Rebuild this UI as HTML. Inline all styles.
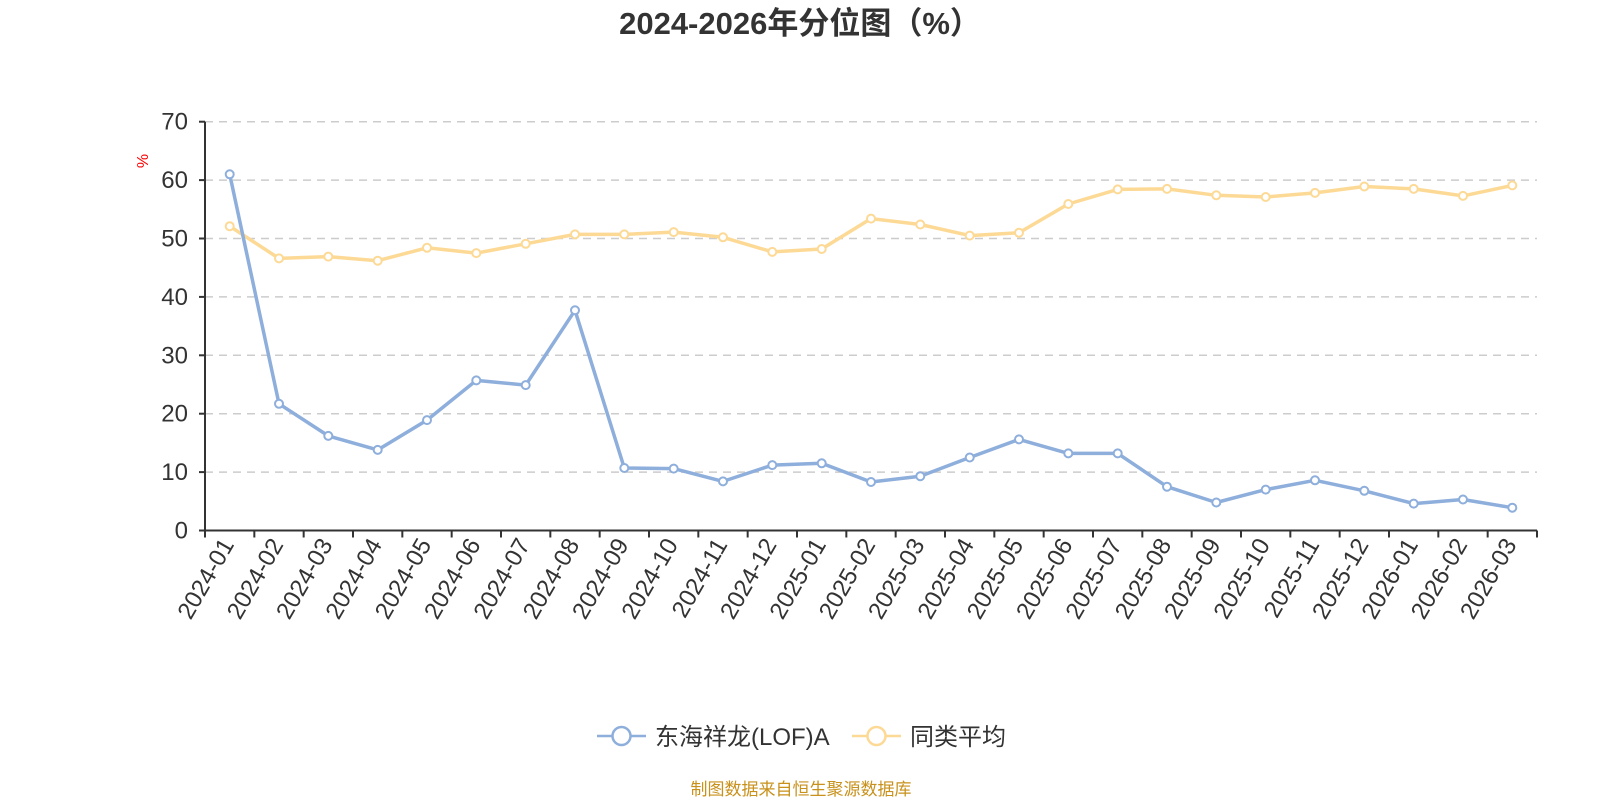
<!DOCTYPE html>
<html><head><meta charset="utf-8"><style>
body{margin:0;background:#fff;}
svg{display:block;font-family:"Liberation Sans","Noto Sans CJK SC",sans-serif;}
</style></head><body>
<svg id="s" width="1600" height="800" xmlns="http://www.w3.org/2000/svg">
<text x="800" y="34" text-anchor="middle" font-size="31" font-weight="bold" fill="#333">2024-2026年分位图（%）</text>
<text transform="translate(148,161) rotate(-90)" text-anchor="middle" font-size="16" fill="#f00">%</text>
<g id="g"></g>
<g>
<line x1="597" y1="736" x2="646" y2="736" stroke="#8eaedc" stroke-width="2.5"/>
<circle cx="621.5" cy="736" r="9" fill="#fff" stroke="#8eaedc" stroke-width="2.5"/>
<text x="655" y="745" font-size="24" fill="#333">东海祥龙(LOF)A</text>
<line x1="852" y1="736" x2="901" y2="736" stroke="#fdd996" stroke-width="2.5"/>
<circle cx="876.5" cy="736" r="9" fill="#fff" stroke="#fdd996" stroke-width="2.5"/>
<text x="910" y="745" font-size="24" fill="#333">同类平均</text>
</g>
<text x="801" y="795" text-anchor="middle" font-size="17" fill="#c8911b">制图数据来自恒生聚源数据库</text>
</svg>
<script>
var g=document.getElementById('g'),h='';
var L=205,R=1537,Y0=530.5,P=58.4,n=27,bw=(R-L)/n;
function y(v){return Y0-v*P/10;}
for(var v=10;v<=70;v+=10)h+='<line x1="'+L+'" x2="'+R+'" y1="'+y(v)+'" y2="'+y(v)+'" stroke="#ccc" stroke-width="1.5" stroke-dasharray="8,6"/>';
for(var v=0;v<=70;v+=10){h+='<line x1="'+(L-6)+'" x2="'+L+'" y1="'+y(v)+'" y2="'+y(v)+'" stroke="#333" stroke-width="2"/>';h+='<text x="188" y="'+(y(v)+8)+'" text-anchor="end" font-size="24" fill="#333">'+v+'</text>';}
h+='<line x1="'+L+'" x2="'+L+'" y1="'+y(70)+'" y2="'+Y0+'" stroke="#333" stroke-width="2"/>';
h+='<line x1="'+L+'" x2="'+R+'" y1="'+Y0+'" y2="'+Y0+'" stroke="#333" stroke-width="2"/>';
var labs=[];for(var i=0;i<n;i++){var yr=2024+Math.floor(i/12),m=i%12+1;labs.push(yr+'-'+(m<10?'0':'')+m);}
for(var i=0;i<=n;i++){var x=L+i*bw;h+='<line x1="'+x+'" x2="'+x+'" y1="'+Y0+'" y2="'+(Y0+7)+'" stroke="#333" stroke-width="2"/>';}
for(var i=0;i<n;i++){var x=L+(i+0.5)*bw;h+='<text transform="translate('+(x+5)+','+(Y0+14)+') rotate(-60)" text-anchor="end" font-size="24" fill="#333">'+labs[i]+'</text>';}
var a=[61,21.7,16.2,13.8,18.9,25.7,24.9,37.7,10.7,10.6,8.4,11.2,11.5,8.3,9.3,12.5,15.6,13.2,13.2,7.5,4.8,7.0,8.6,6.8,4.6,5.3,3.9];
var b=[52.1,46.6,46.9,46.2,48.4,47.5,49.1,50.7,50.7,51.1,50.2,47.7,48.2,53.4,52.4,50.5,51.0,55.9,58.4,58.5,57.4,57.1,57.8,58.9,58.5,57.3,59.1];
function ser(d,c){var p=d.map(function(v,i){return (L+(i+0.5)*bw).toFixed(1)+','+y(v).toFixed(1);});
var s='<polyline points="'+p.join(' ')+'" fill="none" stroke="'+c+'" stroke-width="3.5" stroke-linejoin="round"/>';
p.forEach(function(q){var t=q.split(',');s+='<circle cx="'+t[0]+'" cy="'+t[1]+'" r="4" fill="#fff" stroke="'+c+'" stroke-width="2"/>';});return s;}
h+=ser(b,'#fdd996')+ser(a,'#8eaedc');
g.innerHTML=h;
</script>
</body></html>
